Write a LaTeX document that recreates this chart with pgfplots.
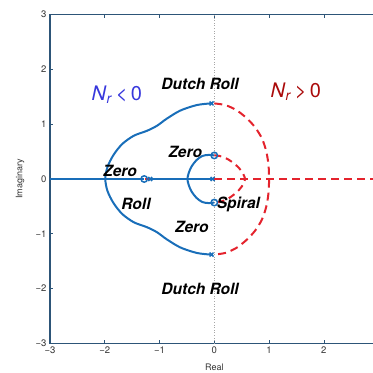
\documentclass[border=0pt]{standalone}
\usepackage{pgfplots}
\pgfplotsset{compat=1.18}
\usepackage{fontspec}
\setmainfont{TeX Gyre Heros}
\usetikzlibrary{calc}
\definecolor{lblue}{RGB}{25,110,185}
\definecolor{lred}{RGB}{228,35,45}
\definecolor{axcol}{RGB}{45,85,120}
\definecolor{nblue}{RGB}{55,55,220}
\definecolor{nred}{RGB}{170,10,10}
\begin{document}
\begin{tikzpicture}
\begin{axis}[
  scale only axis, width=328.6pt, height=328.6pt,
  xmin=-3, xmax=3, ymin=-3, ymax=3,
  xtick={-3,-2,-1,0,1,2,3}, ytick={-3,-2,-1,0,1,2,3},
  xticklabels={−3,−2,−1,0,1,2,{}}, yticklabels={−3,−2,−1,0,1,2,3},
  tick align=inside, major tick length=3pt,
  every tick/.style={axcol, line width=0.6pt},
  axis line style={axcol, line width=1.1pt},
  ticklabel style={font=\fontsize{9.5}{11}\selectfont, text=black!80},
  xlabel={Real}, ylabel={Imaginary},
  label style={font=\fontsize{9}{10}\selectfont, text=black!80},
  xlabel style={at={(axis description cs:0.5,-0.072)}, anchor=center},
  ylabel style={at={(axis description cs:-0.091,0.5)}, anchor=center},
  clip=true,
]
% dotted imaginary axis
\addplot[gray!70, dotted, line width=0.6pt] coordinates {(0,-3) (0,3)};
% real axis loci
\addplot[lblue, line width=2pt] coordinates {(-3.1,0) (-1.29,0)};
\addplot[lblue, line width=2pt] coordinates {(-1.19,0) (-0.03,0)};
\addplot[lred, line width=2pt] coordinates {(-1.27,0) (-1.19,0)};
\addplot[lred, line width=2pt, dash pattern=on 8pt off 5pt] coordinates {(0,0) (3.1,0)};
% dutch roll blue
\addplot[lblue, line width=2pt, smooth] coordinates {
 (-0.07,1.38) (-0.32,1.35) (-0.62,1.25) (-0.87,1.10) (-1.05,0.97) (-1.23,0.88)
 (-1.47,0.79) (-1.68,0.64) (-1.84,0.44) (-1.95,0.22) (-1.99,0)
 (-1.95,-0.22) (-1.84,-0.44) (-1.68,-0.64) (-1.47,-0.79) (-1.23,-0.88)
 (-1.05,-0.97) (-0.87,-1.10) (-0.62,-1.25) (-0.32,-1.35) (-0.07,-1.38)};
% dutch roll red
\addplot[lred, line width=2pt, smooth, dash pattern=on 8pt off 5pt] coordinates {
 (0,1.38) (0.2,1.35) (0.4,1.26) (0.58,1.12) (0.74,0.95) (0.87,0.74) (0.95,0.5)
 (0.99,0.25) (1.0,0) (0.99,-0.25) (0.95,-0.5) (0.87,-0.74) (0.74,-0.95)
 (0.58,-1.12) (0.4,-1.26) (0.2,-1.35) (0,-1.38)};
% inner blue
\addplot[lblue, line width=2pt, smooth] coordinates {
 (0,0.43) (-0.1,0.44) (-0.22,0.42) (-0.33,0.34) (-0.42,0.22) (-0.47,0.1) (-0.49,0)
 (-0.47,-0.1) (-0.42,-0.22) (-0.33,-0.34) (-0.22,-0.42) (-0.1,-0.44) (0,-0.43)};
% inner red
\addplot[lred, line width=2pt, smooth, dash pattern=on 7pt off 5pt] coordinates {
 (0,0.43) (0.1,0.42) (0.25,0.36) (0.4,0.25) (0.5,0.14) (0.56,0)
 (0.5,-0.14) (0.4,-0.25) (0.25,-0.36) (0.1,-0.42) (0,-0.43)};
% zeros
\addplot[only marks, mark=o, mark size=3.2pt, mark options={lblue, line width=1.5pt, fill=white}]
 coordinates {(-1.28,0) (0,0.43) (0,-0.43)};
% poles
\addplot[only marks, mark=x, mark size=2.8pt, mark options={lblue, line width=1.5pt}]
 coordinates {(-0.05,1.38) (-0.05,-1.38) (-0.03,0) (-1.17,0)};
% annotations
\begin{scope}[every node/.style={font=\fontsize{15.5}{17}\selectfont\bfseries\itshape, anchor=base}]
\node at (axis cs:-0.26,1.637) {Dutch Roll};
\node at (axis cs:-0.26,-2.10) {Dutch Roll};
\node at (axis cs:-0.53,0.39) {Zero};
\node at (axis cs:-1.72,0.04) {Zero};
\node at (axis cs:-0.41,-0.98) {Zero};
\node at (axis cs:-1.43,-0.55) {Roll};
\node at (axis cs:0.44,-0.53) {Spiral};
\end{scope}
\node[anchor=base, text=nblue, font=\fontsize{20}{22}\selectfont] at (axis cs:-1.78,1.43) {\textit{N}\textsubscript{\textit{r}}\,<\,0};
\node[anchor=base, text=nred, font=\fontsize{20}{22}\selectfont] at (axis cs:1.49,1.49) {\textit{N}\textsubscript{\textit{r}}\,>\,0};
\end{axis}
\pgfresetboundingbox
\path[use as bounding box] ($(current axis.south west)+(-50pt,-29.7pt)$) rectangle ($(current axis.north west)+(322pt,14.7pt)$);
\end{tikzpicture}
\end{document}
